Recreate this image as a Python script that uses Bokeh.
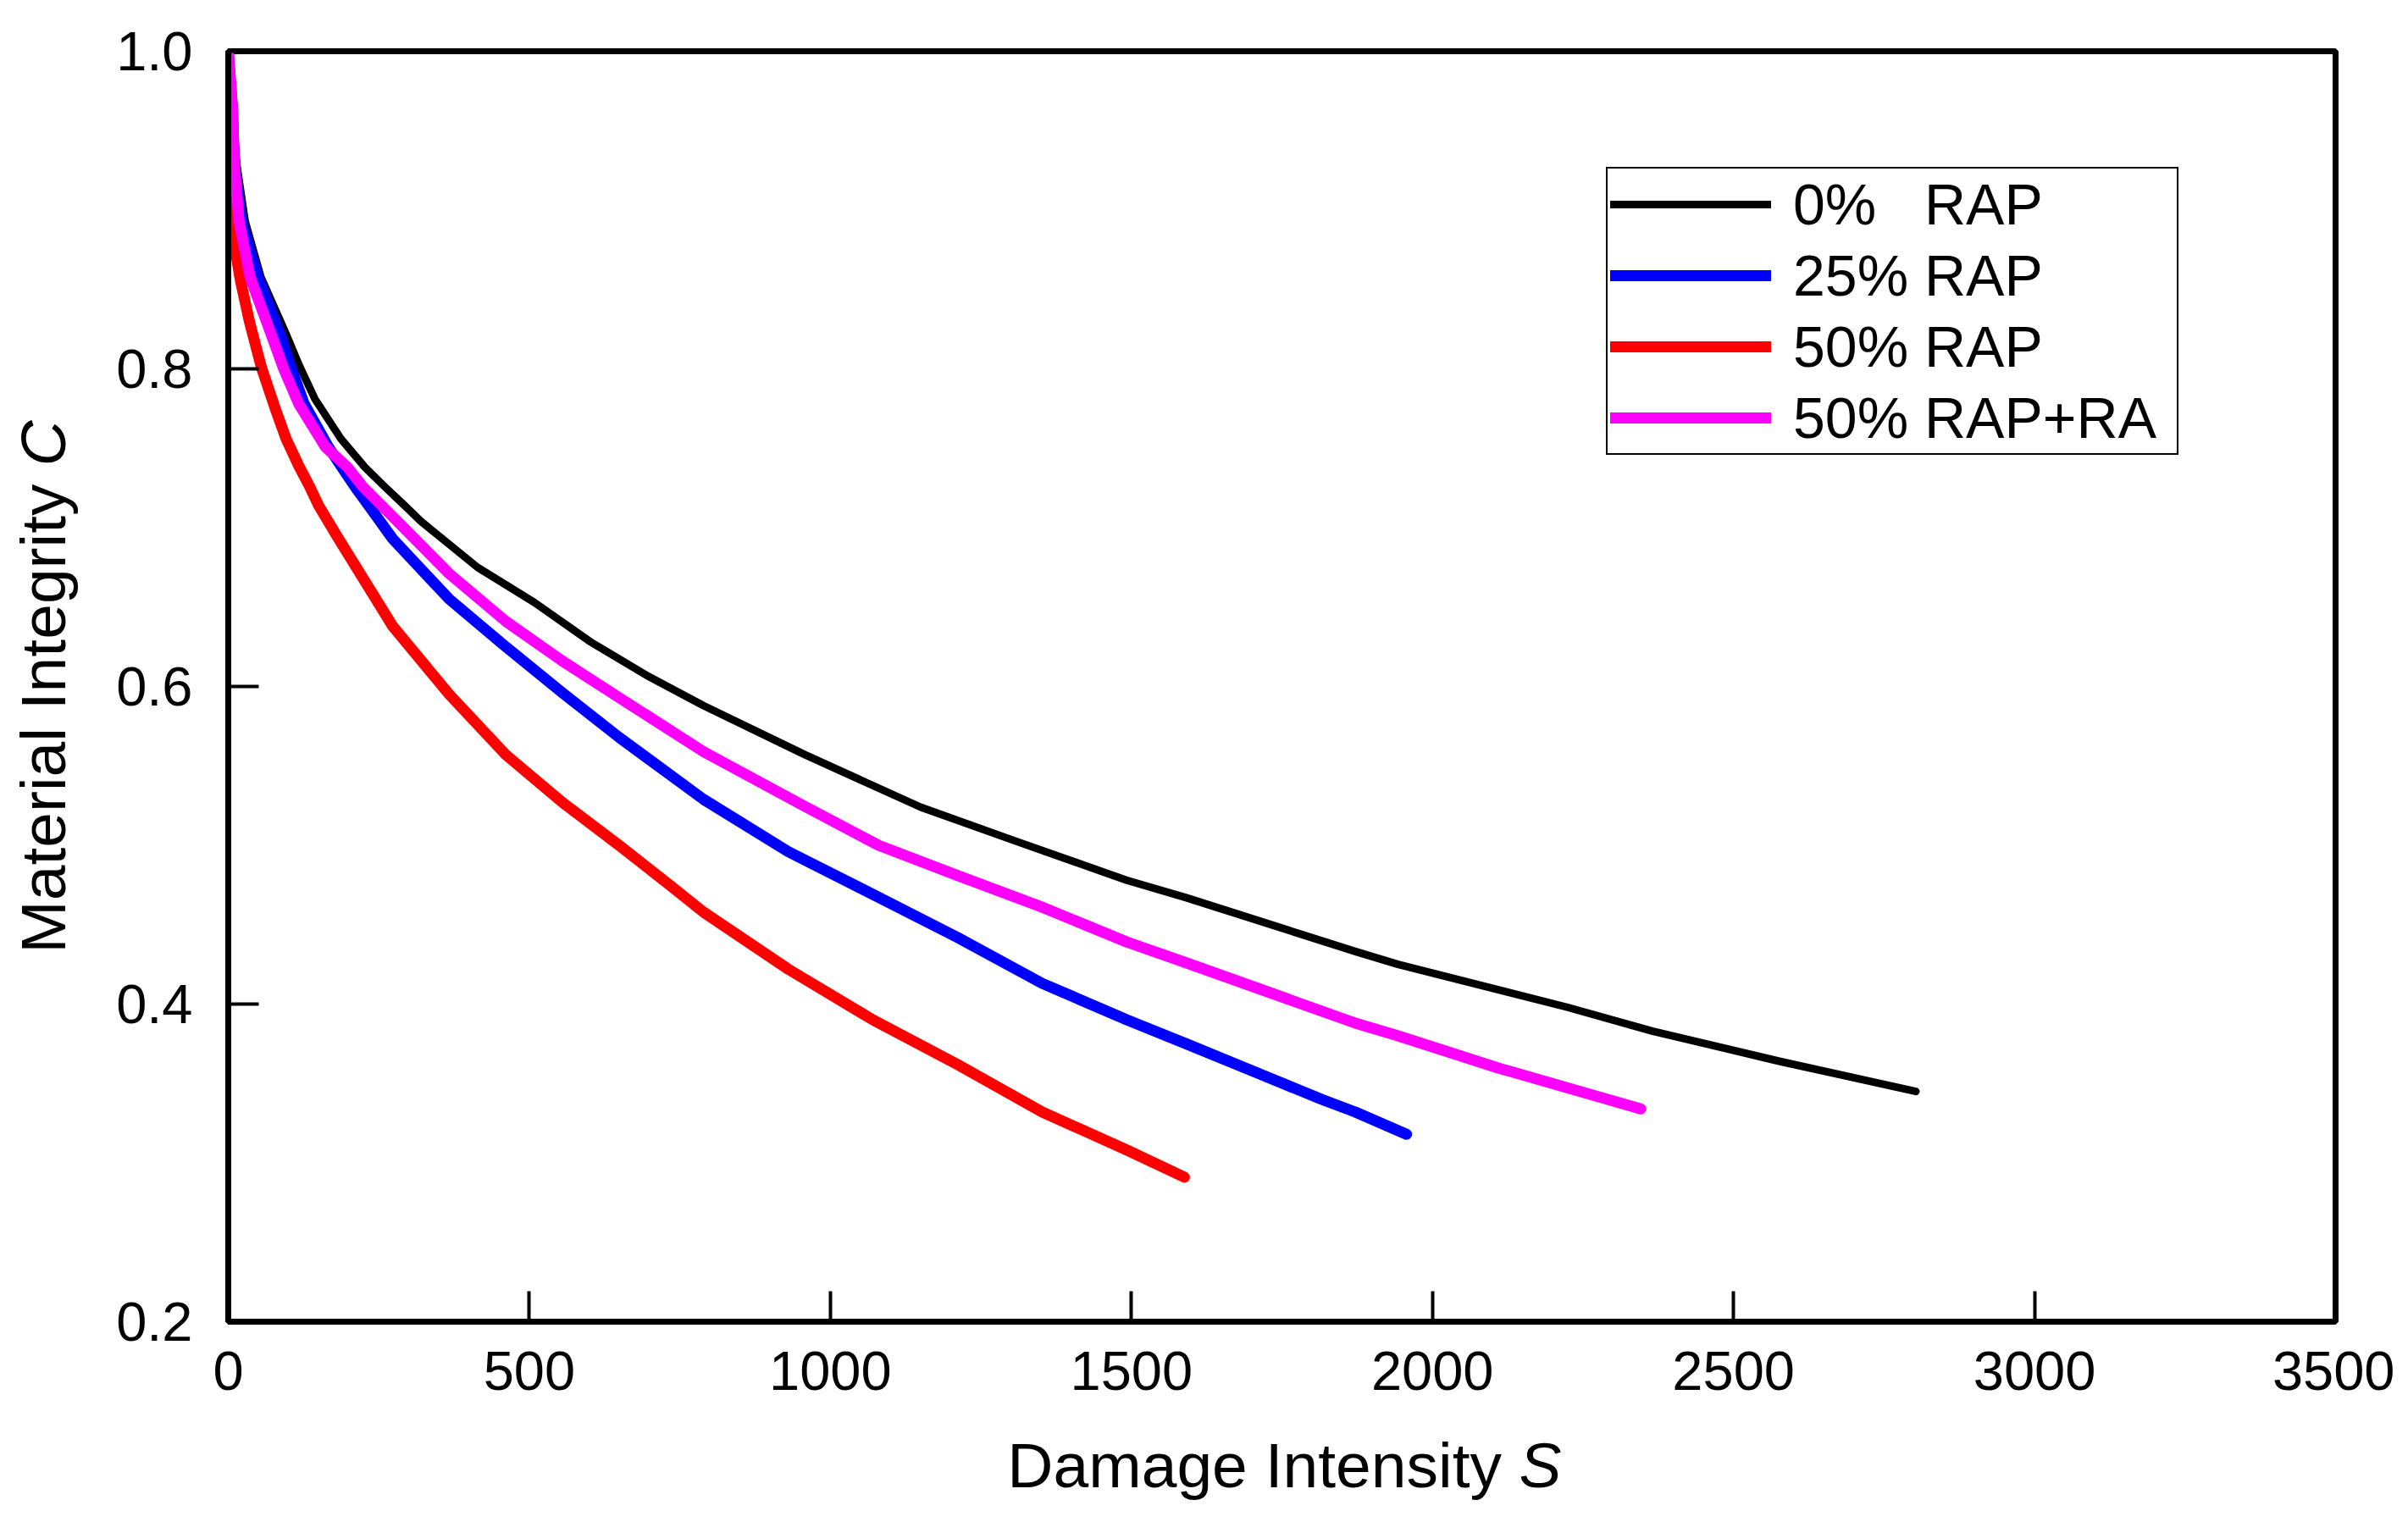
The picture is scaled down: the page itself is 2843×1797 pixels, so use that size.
import math

from bokeh.embed import file_html
from bokeh.models import FixedTicker, Label, Legend, LegendItem, PrintfTickFormatter, Range1d
from bokeh.plotting import figure
from bokeh.resources import INLINE

# damage characteristic curves: S (damage intensity) vs C (integrity)
s_0rap = [0, 7, 14, 28, 54, 96, 118, 144, 187, 227, 262, 290, 320, 414, 508, 602, 695,
          789, 958, 1150, 1305, 1492, 1591, 1873, 1943, 2224, 2365, 2576, 2803]
c_0rap = [1.0, 0.964, 0.929, 0.893, 0.858, 0.822, 0.802, 0.781, 0.756, 0.738, 0.725,
          0.715, 0.704, 0.675, 0.653, 0.628, 0.607, 0.588, 0.557, 0.524, 0.503, 0.478,
          0.467, 0.433, 0.425, 0.398, 0.383, 0.364, 0.345]

s_25rap = [0, 7, 10, 22, 49, 86, 105, 126, 166, 187, 210, 233, 273, 367, 461, 555, 649,
           789, 930, 1071, 1211, 1352, 1493, 1591, 1816, 1872, 1957]
c_25rap = [1.0, 0.964, 0.929, 0.893, 0.858, 0.822, 0.800, 0.778, 0.751, 0.739, 0.726,
           0.714, 0.693, 0.655, 0.625, 0.596, 0.568, 0.529, 0.496, 0.469, 0.442, 0.413,
           0.390, 0.375, 0.340, 0.332, 0.318]

s_50rap = [0, 4, 20, 35, 55, 78, 96, 117, 135, 150, 180, 273, 367, 461, 555, 649, 733,
           789, 930, 1071, 1211, 1352, 1493, 1588]
c_50rap = [0.913, 0.892, 0.856, 0.830, 0.801, 0.775, 0.756, 0.739, 0.726, 0.714, 0.695,
           0.638, 0.595, 0.557, 0.527, 0.500, 0.475, 0.458, 0.422, 0.390, 0.362, 0.332,
           0.308, 0.291]

s_50rap_ra = [0, 7, 10, 18, 36, 71, 92, 117, 161, 198, 223, 273, 367, 461, 555, 649, 789,
              955, 1080, 1211, 1352, 1493, 1591, 1872, 1943, 2107, 2346]
c_50rap_ra = [1.0, 0.964, 0.929, 0.893, 0.858, 0.822, 0.800, 0.778, 0.751, 0.738, 0.726,
              0.707, 0.671, 0.641, 0.616, 0.593, 0.559, 0.525, 0.500, 0.481, 0.461, 0.439,
              0.426, 0.388, 0.380, 0.360, 0.334]

series_names = ["0%\u00a0\u00a0\u00a0RAP", "25% RAP", "50% RAP", "50% RAP+RA"]
x_ticks = [0, 500, 1000, 1500, 2000, 2500, 3000, 3500]
y_ticks = [0.2, 0.4, 0.6, 0.8, 1.0]

FONT = "Liberation Sans"

p = figure(width=2827, height=1781, title=None,
           x_range=Range1d(0, 3500), y_range=Range1d(0.2, 1.0),
           output_backend="svg", toolbar_location=None,
           min_border_left=269, min_border_right=70,
           min_border_top=60, min_border_bottom=221,
           background_fill_color="white", border_fill_color="white")

p.xgrid.grid_line_color = None
p.ygrid.grid_line_color = None
p.outline_line_color = "black"
p.outline_line_width = 7
p.outline_line_alpha = 1.0

p.xaxis.ticker = FixedTicker(ticks=x_ticks)
p.yaxis.ticker = FixedTicker(ticks=y_ticks)
p.yaxis.formatter = PrintfTickFormatter(format="%.1f")

for ax in (p.xaxis[0], p.yaxis[0]):
    ax.axis_line_width = 7
    ax.axis_line_color = "black"
    ax.major_tick_in = 36
    ax.major_tick_out = 0
    ax.major_tick_line_width = 4
    ax.major_tick_line_color = "black"
    ax.minor_tick_line_color = None
    ax.major_label_text_font = FONT
    ax.major_label_text_font_size = "65px"
    ax.major_label_text_color = "black"
p.xaxis.major_label_standoff = 35
p.yaxis.major_label_standoff = 42

styles = [
    (s_0rap, c_0rap, "black", 9),
    (s_25rap, c_25rap, "#0000ff", 13),
    (s_50rap, c_50rap, "#ff0000", 13),
    (s_50rap_ra, c_50rap_ra, "#ff00ff", 13),
]
items = []
for (xs, ys, color, lw), name in zip(styles, series_names):
    r = p.line(xs, ys, line_color=color, line_width=lw,
               line_cap="round", line_join="round")
    items.append(LegendItem(label=name, renderers=[r]))

legend = Legend(items=items, location=(1627, 1023),
                border_line_color="black", border_line_width=2.5, border_line_alpha=1.0,
                background_fill_color="white", background_fill_alpha=1.0,
                padding=3, spacing=6, margin=0,
                glyph_width=190, glyph_height=78, label_height=78,
                label_width=450, label_standoff=26,
                label_text_font=FONT, label_text_font_size="68px",
                label_text_color="black", label_text_baseline="middle")
p.add_layout(legend, "center")

# axis titles with the italic variable letter; each piece sits in a side panel
# (so it is not clipped by the frame) chosen where it does not grow the border
title_kw = dict(text_font=FONT, text_font_size="75px", text_color="black",
                text_baseline="alphabetic")
p.add_layout(Label(x=2115, y=0.2, y_offset=-169, text="Damage Intensity",
                   text_align="right", **title_kw), "below")
p.add_layout(Label(x=2144, y=0.2, y_offset=-169, text="S",
                   text_align="left", text_font_style="italic", **title_kw), "right")
p.add_layout(Label(x=0, y=0.7275, x_offset=-219, angle=math.pi / 2,
                   text="Material Integrity", text_align="right", **title_kw), "left")
p.add_layout(Label(x=0, y=0.7387, x_offset=-219, angle=math.pi / 2,
                   text="C", text_align="left", text_font_style="italic", **title_kw), "above")

open("out.html", "w").write(file_html(p, INLINE))
